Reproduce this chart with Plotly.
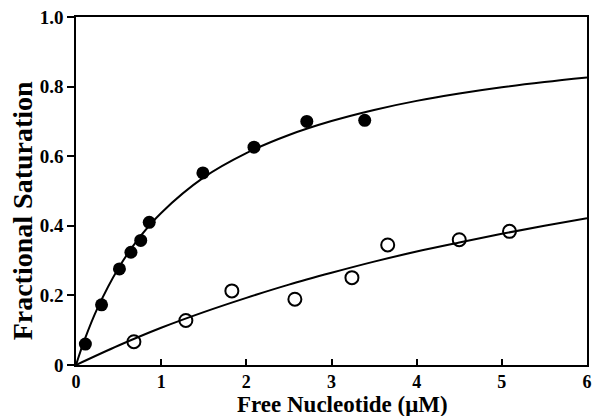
import plotly.graph_objects as go

# Filled circles (data)
filled_x = [0.11, 0.30, 0.51, 0.645, 0.76, 0.86, 1.49, 2.09, 2.71, 3.39]
filled_y = [0.060, 0.173, 0.276, 0.324, 0.358, 0.410, 0.552, 0.626, 0.700, 0.703]

# Open circles (data)
open_x = [0.68, 1.29, 1.83, 2.57, 3.24, 3.66, 4.50, 5.09]
open_y = [0.067, 0.128, 0.213, 0.189, 0.251, 0.345, 0.360, 0.384]

# Fitted curves
fit_filled_x = [0, 0.1, 0.25, 0.5, 0.75, 1.0, 1.5, 2.0, 2.5, 3.0, 3.5, 4.0, 4.5, 5.0, 5.5, 6.0]
fit_filled_y = [0, 0.072, 0.162, 0.279, 0.368, 0.437, 0.539, 0.609, 0.661, 0.701, 0.733, 0.759, 0.780, 0.798, 0.813, 0.826]

fit_open_x = [0, 0.5, 1.0, 1.5, 2.0, 2.5, 3.0, 3.5, 4.0, 4.5, 5.0, 5.5, 6.0]
fit_open_y = [0, 0.056, 0.107, 0.152, 0.193, 0.231, 0.265, 0.297, 0.326, 0.352, 0.377, 0.400, 0.422]

x_ticks = [0, 1, 2, 3, 4, 5, 6]
x_tick_labels = ["0", "1", "2", "3", "4", "5", "6"]
y_ticks = [0, 0.2, 0.4, 0.6, 0.8, 1.0]
y_tick_labels = ["0", "0.2", "0.4", "0.6", "0.8", "1.0"]

x_title = "Free Nucleotide (μM)"
y_title = "Fractional Saturation"

FONT = "Liberation Serif"

def b(s):
    return "<b>" + s + "</b>"

fig = go.Figure()
fig.add_trace(go.Scatter(x=fit_filled_x, y=fit_filled_y, mode="lines",
                         line=dict(color="black", width=2, shape="spline"),
                         hoverinfo="skip", showlegend=False))
fig.add_trace(go.Scatter(x=fit_open_x, y=fit_open_y, mode="lines",
                         line=dict(color="black", width=2, shape="spline"),
                         hoverinfo="skip", showlegend=False))
fig.add_trace(go.Scatter(x=filled_x, y=filled_y, mode="markers",
                         marker=dict(symbol="circle", size=13, color="black",
                                     line=dict(color="black", width=0)),
                         showlegend=False))
fig.add_trace(go.Scatter(x=open_x, y=open_y, mode="markers",
                         marker=dict(symbol="circle-open", size=13, color="black",
                                     line=dict(color="black", width=2)),
                         showlegend=False))

fig.update_layout(
    width=594, height=416,
    margin=dict(l=76, r=7, t=17, b=51, autoexpand=False),
    paper_bgcolor="white", plot_bgcolor="white",
    font=dict(family=FONT, color="black"),
    xaxis=dict(range=[0, 6], tickvals=x_ticks, ticktext=[b(t) for t in x_tick_labels],
               ticks="inside", ticklen=6, tickwidth=1.5, tickcolor="black",
               showline=True, linecolor="black", linewidth=1.5, mirror=True,
               showgrid=False, zeroline=False, automargin=False,
               tickfont=dict(family=FONT, size=18, color="black")),
    yaxis=dict(range=[0, 1.0], tickvals=y_ticks, ticktext=[b(t) for t in y_tick_labels],
               ticks="outside", ticklen=7, tickwidth=1.5, tickcolor="black",
               showline=True, linecolor="black", linewidth=1.5, mirror=True,
               showgrid=False, zeroline=False, automargin=False,
               tickfont=dict(family=FONT, size=19, color="black")),
    annotations=[
        dict(text=b(x_title), xref="paper", yref="paper", x=0.5225, y=-0.113,
             xanchor="center", yanchor="middle", showarrow=False,
             font=dict(family=FONT, size=23, color="black")),
        dict(text=b(y_title), xref="paper", yref="paper", x=-0.105, y=0.4425,
             xanchor="center", yanchor="middle", showarrow=False, textangle=-90,
             font=dict(family=FONT, size=28, color="black")),
    ],
)

fig.write_html("out.html", config={"displayModeBar": False},
               post_script="document.body.style.margin='0px';document.body.style.overflow='hidden';")
